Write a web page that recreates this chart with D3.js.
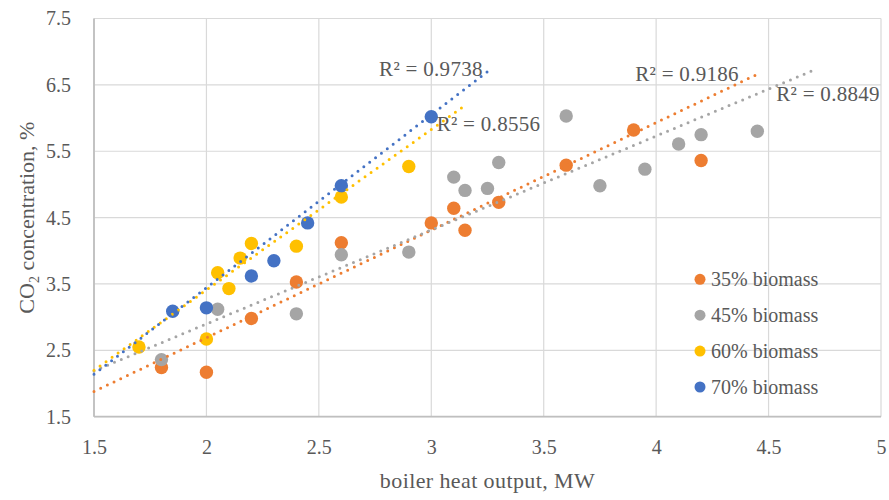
<!DOCTYPE html>
<html>
<head>
<meta charset="utf-8">
<script src="https://cdn.jsdelivr.net/npm/d3@7"></script>
<style>
body { margin: 0; background: #fff; }
svg text { font-family: "Liberation Serif", "Times New Roman", serif; fill: #595959; }
</style>
</head>
<body>
<svg id="chart" width="889" height="500"></svg>
<script>
// series
const seriesNames = ["35% biomass", "45% biomass", "60% biomass", "70% biomass"]
const seriesColors = ["#ED7D31", "#A5A5A5", "#FFC000", "#4472C4"]

const x35 = [1.8, 2.0, 2.2, 2.4, 2.6, 3.0, 3.1, 3.15, 3.3, 3.6, 3.9, 4.2]
const y35 = [2.24, 2.17, 2.98, 3.53, 4.12, 4.42, 4.64, 4.31, 4.73, 5.29, 5.82, 5.36]

const x45 = [1.8, 2.05, 2.4, 2.6, 2.9, 3.1, 3.15, 3.25, 3.3, 3.6, 3.75, 3.95, 4.1, 4.2, 4.45]
const y45 = [2.36, 3.12, 3.05, 3.94, 3.98, 5.11, 4.91, 4.94, 5.33, 6.03, 4.98, 5.23, 5.61, 5.75, 5.8]

const x60 = [1.7, 2.0, 2.05, 2.1, 2.15, 2.2, 2.4, 2.6, 2.9]
const y60 = [2.55, 2.67, 3.67, 3.43, 3.89, 4.11, 4.07, 4.81, 5.27]

const x70 = [1.85, 2.0, 2.2, 2.3, 2.45, 2.6, 3.0]
const y70 = [3.09, 3.14, 3.62, 3.85, 4.42, 4.98, 6.02]

// linear trendlines, one per series
const trendX0 = [1.5, 1.5, 1.5, 1.5]
const trendY0 = [1.88, 2.19, 2.20, 2.14]
const trendX1 = [4.45, 4.7, 3.15, 3.25]
const trendY1 = [6.66, 6.72, 6.19, 6.70]

// R² labels and where they sit (data units, left/baseline)
const r2Text = ["R² = 0.9186", "R² = 0.8849", "R² = 0.8556", "R² = 0.9738"]
const r2X = [3.907, 4.534, 3.024, 2.768]
const r2Y = [6.556, 6.259, 5.807, 6.64]

// axes
const xTicks = [1.5, 2, 2.5, 3, 3.5, 4, 4.5, 5]
const yTicks = [1.5, 2.5, 3.5, 4.5, 5.5, 6.5, 7.5]

const xs = [x35, x45, x60, x70]
const ys = [y35, y45, y60, y70]

const svg = d3.select("#chart")
const margin = {top: 18.5, right: 8, bottom: 83.3, left: 94}
const width = 889 - margin.left - margin.right
const height = 500 - margin.top - margin.bottom

const g = svg.append("g")
    .attr("transform", "translate(" + margin.left + "," + margin.top + ")")

const x = d3.scaleLinear().domain([1.5, 5]).range([0, width])
const y = d3.scaleLinear().domain([1.5, 7.5]).range([height, 0])

// gridlines
g.append("g")
    .selectAll("line.vg")
    .data(xTicks)
    .join("line")
    .attr("x1", d => x(d)).attr("x2", d => x(d))
    .attr("y1", 0).attr("y2", height)
    .attr("stroke", "#D9D9D9")
    .attr("stroke-width", 1.2)

g.append("g")
    .selectAll("line.hg")
    .data(yTicks)
    .join("line")
    .attr("x1", 0).attr("x2", width)
    .attr("y1", d => y(d)).attr("y2", d => y(d))
    .attr("stroke", "#D9D9D9")
    .attr("stroke-width", 1.2)

// axis lines
g.append("line")
    .attr("x1", 0).attr("x2", width)
    .attr("y1", height).attr("y2", height)
    .attr("stroke", "#BFBFBF").attr("stroke-width", 1.8)
g.append("line")
    .attr("x1", 0).attr("x2", 0)
    .attr("y1", 0).attr("y2", height)
    .attr("stroke", "#BFBFBF").attr("stroke-width", 1.8)

// tick labels
const xAxis = g.append("g")
    .attr("transform", "translate(0," + height + ")")
    .call(d3.axisBottom(x).tickValues(xTicks).tickSize(0).tickPadding(23).tickFormat(d => d))
xAxis.select(".domain").remove()
xAxis.selectAll("text").attr("font-size", 20).attr("fill", "#595959")
    .attr("font-family", "Liberation Serif")

const yAxis = g.append("g")
    .call(d3.axisLeft(y).tickValues(yTicks).tickSize(0).tickPadding(23).tickFormat(d => d))
yAxis.select(".domain").remove()
yAxis.selectAll("text").attr("font-size", 20).attr("fill", "#595959")
    .attr("font-family", "Liberation Serif")

// points
seriesNames.forEach(function (name, i) {
    g.append("g")
        .selectAll("circle")
        .data(xs[i].map((v, j) => [v, ys[i][j]]))
        .join("circle")
        .attr("cx", d => x(d[0]))
        .attr("cy", d => y(d[1]))
        .attr("r", 6.7)
        .attr("fill", seriesColors[i])
})

// trendlines on top of the markers
seriesNames.forEach(function (name, i) {
    g.append("line")
        .attr("x1", x(trendX0[i])).attr("y1", y(trendY0[i]))
        .attr("x2", x(trendX1[i])).attr("y2", y(trendY1[i]))
        .attr("stroke", seriesColors[i])
        .attr("stroke-width", 3)
        .attr("stroke-linecap", "round")
        .attr("stroke-dasharray", "0 7.4")
})

// R² labels
g.selectAll("text.r2")
    .data(r2Text)
    .join("text")
    .attr("class", "r2")
    .attr("x", (d, i) => x(r2X[i]))
    .attr("y", (d, i) => y(r2Y[i]))
    .attr("font-size", 21)
    .attr("letter-spacing", 0.3)
    .text(d => d)

// legend
const legend = svg.append("g").attr("transform", "translate(700,279.3)")
seriesNames.forEach(function (name, i) {
    const row = legend.append("g").attr("transform", "translate(0," + i * 35.9 + ")")
    row.append("circle").attr("r", 5.5).attr("fill", seriesColors[i])
    row.append("text")
        .attr("x", 11)
        .attr("dy", "0.35em")
        .attr("font-size", 20)
        .text(name)
})

// axis titles
svg.append("text")
    .attr("x", margin.left + width / 2)
    .attr("y", 488)
    .attr("text-anchor", "middle")
    .attr("font-size", 22)
    .attr("letter-spacing", 0.4)
    .text("boiler heat output, MW")

const yTitle = svg.append("text")
    .attr("transform", "translate(33.5," + (margin.top + height / 2) + ") rotate(-90)")
    .attr("text-anchor", "middle")
    .attr("font-size", 22)
yTitle.append("tspan").text("CO")
yTitle.append("tspan").attr("font-size", 14).attr("dy", 5).text("2")
yTitle.append("tspan").attr("dy", -5).text(" concentration, %")
</script>
</body>
</html>
